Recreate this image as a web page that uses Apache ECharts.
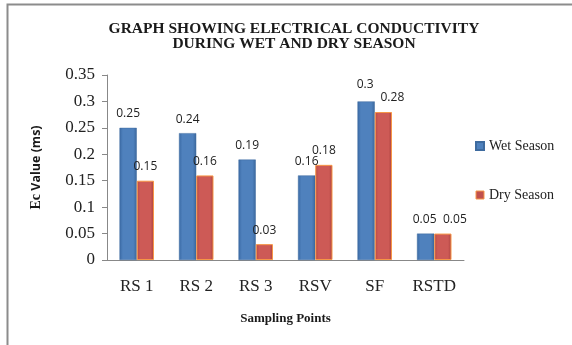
<!DOCTYPE html>
<html><head><meta charset="utf-8">
<script src="https://cdn.jsdelivr.net/npm/echarts@6/dist/echarts.min.js"></script>
<style>html,body{margin:0;padding:0;background:#fff}#c{width:572px;height:345px}</style>
</head><body><div id="c"></div>
<script>
const categories = ['RS 1','RS 2','RS 3','RSV','SF','RSTD'];
const wetSeason = [0.25,0.24,0.19,0.16,0.3,0.05];
const drySeason = [0.15,0.16,0.03,0.18,0.28,0.05];
const yTicks = [0,0.05,0.1,0.15,0.2,0.25,0.3,0.35];

const chart = echarts.init(document.getElementById('c'), null, {renderer:'canvas'});
function grad(a,b,c){return new echarts.graphic.LinearGradient(0,0,1,0,[{offset:0,color:a},{offset:0.2,color:b},{offset:0.8,color:b},{offset:1,color:c}]);}
const dryLabelShift = {4:[9,0],5:[12,0]};
const wetLabelShift = {4:[-1,-3],5:[-1,0]};
chart.setOption({
  animation:false,
  graphic:[{type:'rect',shape:{x:7.5,y:4.5,width:600,height:400},style:{fill:'none',stroke:'#8c8c8c',lineWidth:2},silent:true}],
  title:{text:'GRAPH SHOWING ELECTRICAL CONDUCTIVITY\nDURING WET AND DRY SEASON',left:289,top:16,textAlign:'center',
    textStyle:{fontFamily:'Liberation Serif',fontWeight:'bold',fontSize:15.5,lineHeight:15,color:'#1a1a1a'}},
  legend:{orient:'vertical',left:470,top:134,itemGap:35,itemWidth:8,itemHeight:8,icon:'rect',
    textStyle:{fontFamily:'Liberation Serif',fontSize:14,color:'#222'},
    data:[{name:'Wet Season',itemStyle:{color:'#4f81bd'}},{name:'Dry Season',itemStyle:{color:'#c0504d',borderColor:'#f79646',borderWidth:1}}]},
  grid:{left:107,right:108,top:75,bottom:85},
  xAxis:{type:'category',data:categories,
    name:'Sampling Points',nameLocation:'middle',nameGap:52,
    nameTextStyle:{fontFamily:'Liberation Serif',fontWeight:'bold',fontSize:13,color:'#1a1a1a'},
    axisLine:{lineStyle:{color:'#888'}},axisTick:{length:6,lineStyle:{color:'#888'}},
    axisLabel:{margin:18,fontFamily:'Liberation Serif',fontSize:17,color:'#222'}},
  yAxis:{type:'value',min:0,max:0.35,interval:0.05,
    name:'{a|Ec} {b|Value (ms)}',nameLocation:'middle',nameGap:64,
    nameTextStyle:{color:'#1a1a1a',rich:{
      a:{fontFamily:'Liberation Serif',fontWeight:'bold',fontSize:14,color:'#1a1a1a'},
      b:{fontFamily:'Open Sans',fontWeight:'bold',fontSize:12.5,color:'#1a1a1a'}}},
    splitLine:{show:false},
    axisLine:{show:true,lineStyle:{color:'#888'}},axisTick:{show:true,length:5,lineStyle:{color:'#888'}},
    axisLabel:{margin:12,fontFamily:'Liberation Serif',fontSize:17,color:'#222',
      formatter:v=>{const t=yTicks.find(x=>Math.abs(x-v)<1e-9);return t===undefined?'':String(t);}}},
  series:[
    {name:'Wet Season',type:'bar',barGap:'0%',barCategoryGap:'42%',
      data:wetSeason.map((v,i)=>wetLabelShift[i]?{value:v,label:{offset:wetLabelShift[i]}}:v),
      itemStyle:{color:grad('#3a6aa5','#4f81bd','#3b679c'),borderColor:'#3e6b9f',borderWidth:0.5},
      label:{show:true,position:'top',distance:8,fontFamily:'Open Sans',fontSize:12,color:'#222'}},
    {name:'Dry Season',type:'bar',
      data:drySeason.map((v,i)=>dryLabelShift[i]?{value:v,label:{offset:dryLabelShift[i]}}:v),
      itemStyle:{color:grad('#b54744','#cd5a56','#a9403d'),borderColor:'#f79646',borderWidth:1},
      label:{show:true,position:'top',distance:8,fontFamily:'Open Sans',fontSize:12,color:'#222'}}
  ]
});
</script></body></html>
